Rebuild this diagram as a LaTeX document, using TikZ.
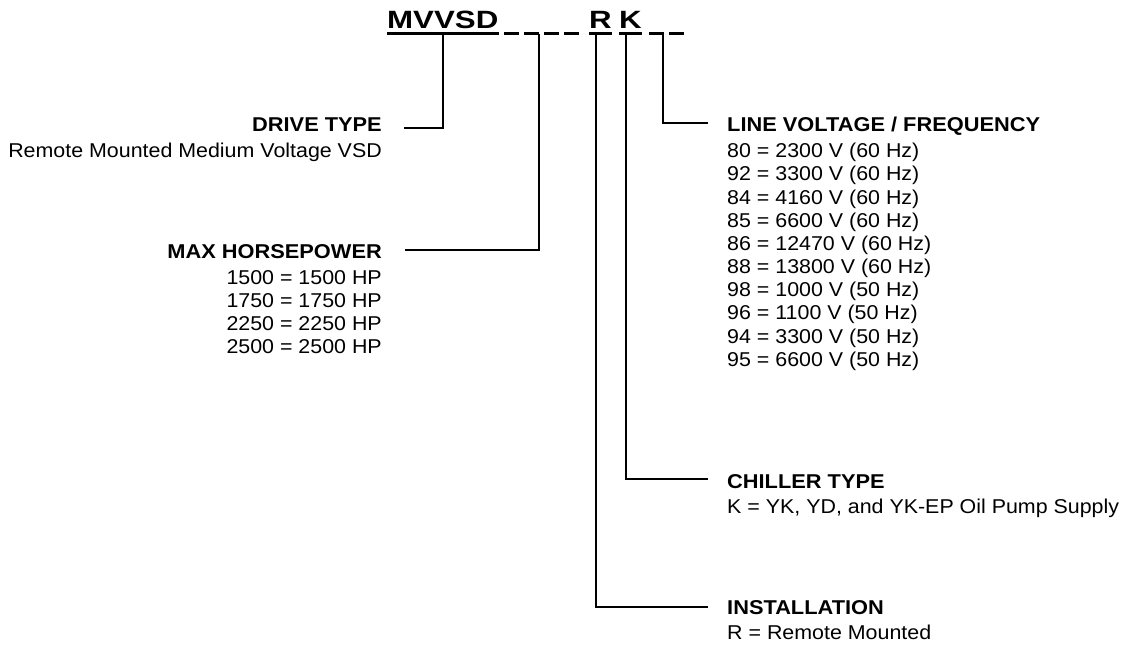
\documentclass[tikz,border=0pt]{standalone}
\usepackage{fontspec}
\setmainfont{Liberation Sans}[FakeStretch=1.07, BoldFeatures={FakeStretch=1.09}]
\newfontfamily\codefont{Liberation Sans}[FakeStretch=1.25]

\tikzset{
	code/.style={inner sep=0pt, anchor=base west, font=\codefont\fontsize{25}{30}\selectfont\bfseries},
	lead/.style={line width=2.2pt},
	blank/.style={line width=3pt},
	entry/.style={inner sep=0pt, font=\fontsize{20}{23.2}\selectfont},
}

\begin{document}
\begin{tikzpicture}[x=1pt,y=-1pt]
	\useasboundingbox (0,0) rectangle (1124,646);
	
	% model number
	\node[code] (mvvsd) at (387,28) {MVVSD};
	\node[code] (inst) at (589,28) {R};
	\node[code] (chil) at (619,28) {K};
	
	\draw[blank] ([yshift=-5.5pt]mvvsd.base west) -- ([yshift=-5.5pt]mvvsd.base east);
	\draw[blank] ([yshift=-5.5pt]inst.base west) -- ([yshift=-5.5pt]inst.base east);
	\draw[blank] ([yshift=-5.5pt]chil.base west) -- ([yshift=-5.5pt]chil.base east);
	\foreach \x in {504,524,544,564}
		\draw[blank] (\x,33.5) -- ++(15,0);
	\foreach \x in {649,669}
		\draw[blank] (\x,33.5) -- ++(15,0);
	
	% left side
	\node[entry, anchor=north east, align=right] (drive) at (382,118)
		{\textbf{DRIVE TYPE}\\[2.2pt]Remote Mounted Medium Voltage VSD};
	\node[entry, anchor=north east, align=right] (hp) at (382,244)
		{\textbf{MAX HORSEPOWER}\\[3pt]1500 = 1500 HP\\1750 = 1750 HP\\2250 = 2250 HP\\2500 = 2500 HP};
	
	\coordinate (dtTop) at (443,33.5);
	\coordinate (dtEnd) at (404,128);
	\coordinate (hpTop) at (539,33.5);
	\coordinate (hpEnd) at (405,250);
	\draw[lead] (dtTop) |- (dtEnd);
	\draw[lead] (hpTop) |- (hpEnd);
	
	% right side
	\node[entry, anchor=north west, align=left] (volt) at (727,117)
		{\textbf{LINE VOLTAGE / FREQUENCY}\\[2.7pt]80 = 2300 V (60 Hz)\\92 = 3300 V (60 Hz)\\84 = 4160 V (60 Hz)\\85 = 6600 V (60 Hz)\\86 = 12470 V (60 Hz)\\88 = 13800 V (60 Hz)\\98 = 1000 V (50 Hz)\\96 = 1100 V (50 Hz)\\94 = 3300 V (50 Hz)\\95 = 6600 V (50 Hz)};
	\node[entry, anchor=north west, align=left] (chiller) at (727,474)
		{\textbf{CHILLER TYPE}\\[2.2pt]K = YK, YD, and YK-EP Oil Pump Supply};
	\node[entry, anchor=north west, align=left] (install) at (727,600)
		{\textbf{INSTALLATION}\\[2.2pt]R = Remote Mounted};
	
	\coordinate (lvTop) at (663,33.5);
	\coordinate (lvEnd) at (708,123);
	\coordinate (ctTop) at (626,33.5);
	\coordinate (ctEnd) at (708,479);
	\coordinate (inTop) at (596,33.5);
	\coordinate (inEnd) at (708,607);
	\draw[lead] (lvTop) |- (lvEnd);
	\draw[lead] (ctTop) |- (ctEnd);
	\draw[lead] (inTop) |- (inEnd);
\end{tikzpicture}
\end{document}
